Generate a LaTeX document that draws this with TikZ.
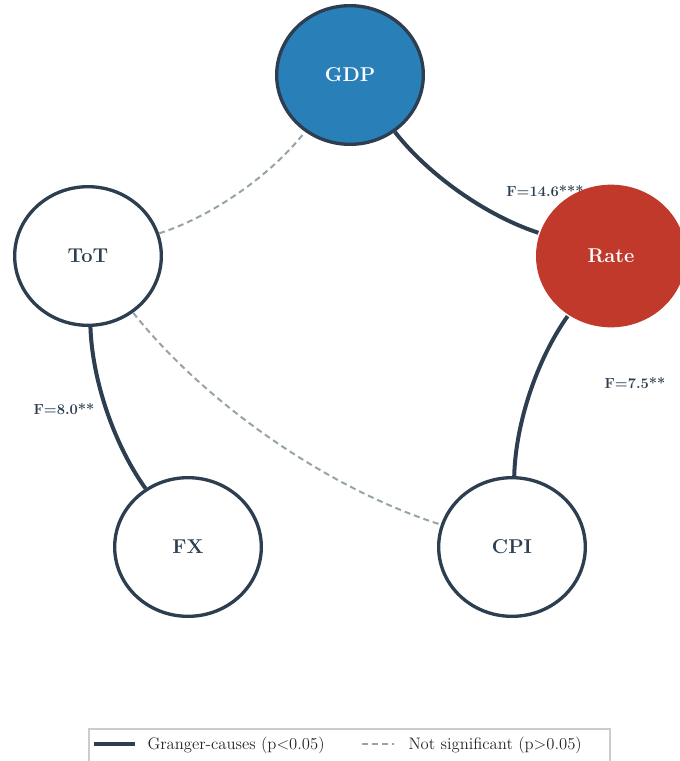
\documentclass[tikz,border=0pt]{standalone}
\usetikzlibrary{shapes.geometric}

\definecolor{navy}{HTML}{2C3E50}
\definecolor{gdpblue}{HTML}{2980B9}
\definecolor{ratered}{HTML}{C0392B}
\definecolor{nsgray}{HTML}{95A5A6}
\definecolor{boxgray}{HTML}{CCCCCC}

\tikzset{every picture/.style={line width=0.75pt}}
\tikzset{
  var/.style={ellipse, draw=navy, line width=2.5pt, fill=white, text=navy, inner sep=0pt,
    minimum width=110pt, minimum height=104pt, font=\fontsize{15}{18}\selectfont\bfseries},
  sig/.style={draw=navy, line width=3pt},
  nonsig/.style={draw=nsgray, line width=1.5pt, dash pattern=on 4.5pt off 3pt},
  arcto/.style={bend left=17, looseness=0.8},
  flabel/.style={text=navy, inner sep=0.75pt, font=\fontsize{11}{13}\selectfont\bfseries},
  legtext/.style={text=black!85, anchor=west, inner sep=0.75pt, font=\fontsize{12.5}{15}\selectfont}
}

\begin{document}
\begin{tikzpicture}[x=0.75pt,y=0.75pt,yscale=-1,xscale=1]
				\useasboundingbox (0,0) rectangle (680,761);
				\clip (0,0) rectangle (680,761);
				%Shape: Ellipse [id:gdp] 
				\node [var, fill=gdpblue, text=white] (gdp) at (350,75) {GDP};
				%Shape: Ellipse [id:tot] 
				\node [var] (tot) at (88,256) {ToT};
				%Shape: Ellipse [id:rate] 
				\node [var, draw=none, fill=ratered, text=white, minimum width=112.5pt, minimum height=107pt] (rate) at (611,256) {Rate};
				%Shape: Ellipse [id:fx] 
				\node [var] (fx) at (188,547) {FX};
				%Shape: Ellipse [id:cpi] 
				\node [var] (cpi) at (512,547) {CPI};
				
				%Curve Lines [id:edges] 
				\draw [nonsig] (tot) to [arcto] (gdp);
				\draw [nonsig] (tot) to [arcto] (cpi);
				\draw [sig] (gdp) to [arcto] (rate);
				\draw [sig] (tot) to [arcto] (fx);
				\draw [sig] (rate) to [arcto] (cpi);
				
				% Text Node
				\node [flabel] (f146) at (545,191) {F=14.6***};
				% Text Node
				\node [flabel] (f75) at (635,383) {F=7.5**};
				% Text Node
				\node [flabel] (f80) at (64,409) {F=8.0**};
				
				%Shape: Rectangle [id:legend] 
				\draw [boxgray, line width=1.5pt, fill=white] (89,729) rectangle (610,775);
				\draw [navy, line width=3pt] (94,744) -- (135,744);
				% Text Node
				\node [legtext] (legsig) at (146,745) {Granger-causes (p<0.05)};
				\draw [nsgray, line width=1.5pt, dash pattern=on 4.5pt off 3pt] (362,744) -- (394,744);
				% Text Node
				\node [legtext] (legns) at (407,745) {Not significant (p>0.05)};
			\end{tikzpicture}
\end{document}
